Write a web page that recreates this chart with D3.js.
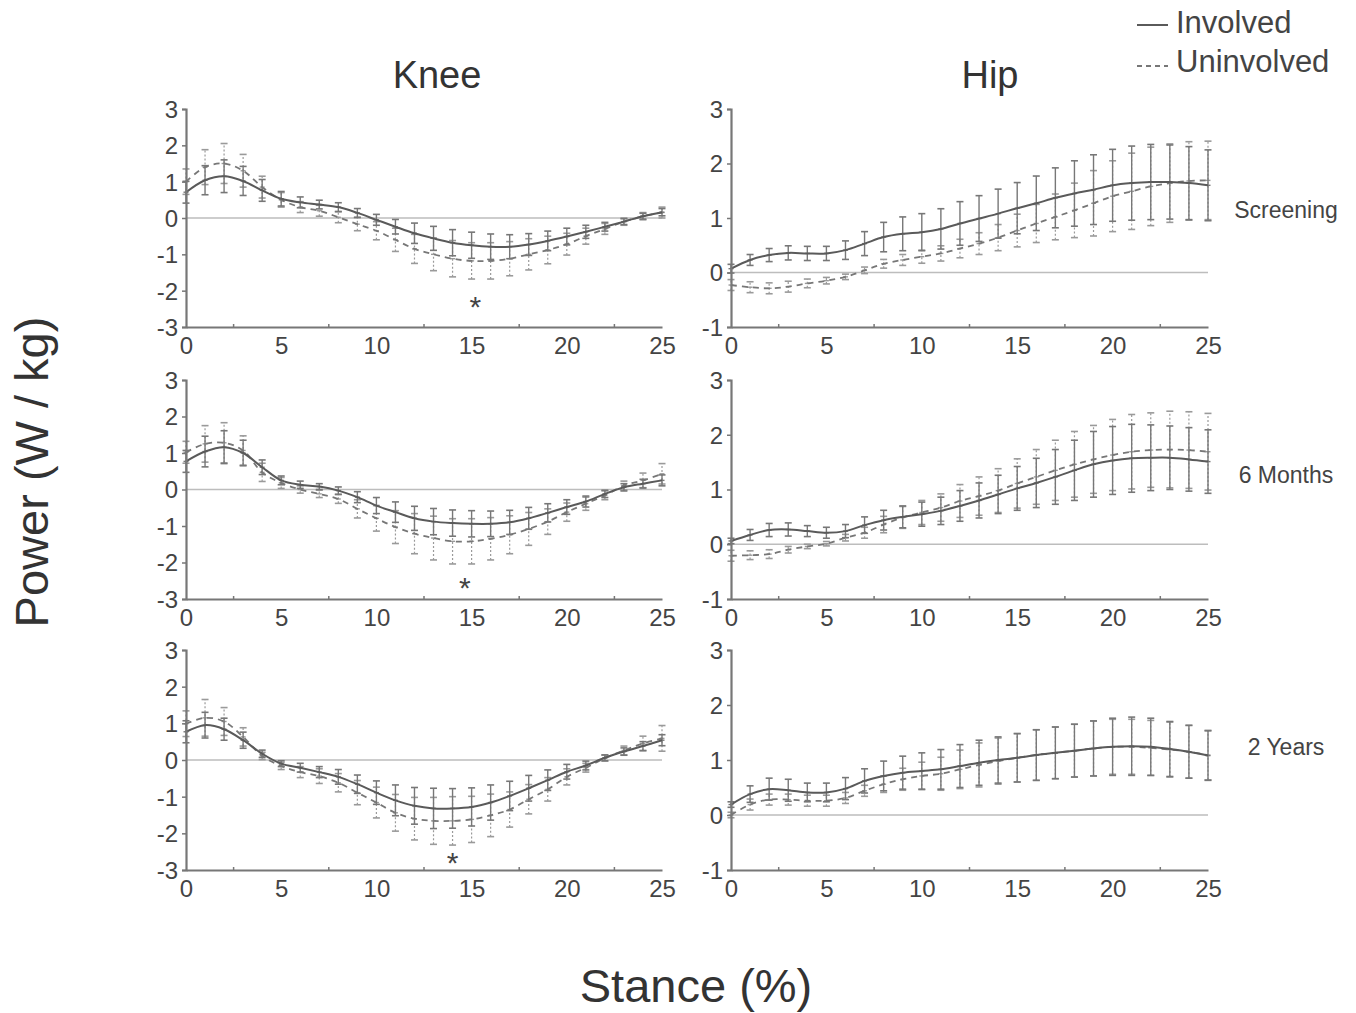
<!DOCTYPE html>
<html>
<head>
<meta charset="utf-8">
<script src="https://cdn.jsdelivr.net/npm/d3@7"></script>
<style>
  body { margin: 0; background: #fff; }
  svg { font-family: "Liberation Sans", Arial, sans-serif; }
</style>
</head>
<body>
<svg id="chart" width="1356" height="1013"></svg>
<script>
// stance percentage
const stance = d3.range(0, 26);

// Knee power (W/kg), mean and SD, for each visit
const kneeScreenInv = [0.71,1.04,1.15,1.02,0.76,0.53,0.43,0.37,0.3,0.14,-0.05,-0.24,-0.42,-0.56,-0.68,-0.75,-0.79,-0.79,-0.73,-0.63,-0.51,-0.38,-0.24,-0.1,0.05,0.16];
const kneeScreenInvSd = [0.3,0.4,0.45,0.4,0.3,0.2,0.15,0.12,0.12,0.12,0.15,0.2,0.28,0.33,0.36,0.36,0.35,0.33,0.3,0.27,0.23,0.18,0.12,0.08,0.08,0.1];
const kneeScreenUn = [1.0,1.4,1.5,1.3,0.85,0.5,0.3,0.2,0.02,-0.17,-0.35,-0.6,-0.85,-1.0,-1.12,-1.18,-1.18,-1.12,-1.0,-0.88,-0.72,-0.5,-0.3,-0.1,0.05,0.15];
const kneeScreenUnSd = [0.35,0.48,0.55,0.45,0.3,0.2,0.15,0.15,0.15,0.18,0.25,0.32,0.4,0.45,0.5,0.5,0.5,0.47,0.43,0.38,0.3,0.22,0.15,0.1,0.1,0.15];

const knee6Inv = [0.77,1.04,1.16,1.0,0.61,0.25,0.13,0.08,-0.03,-0.21,-0.44,-0.62,-0.79,-0.88,-0.92,-0.94,-0.94,-0.9,-0.79,-0.64,-0.48,-0.33,-0.12,0.06,0.16,0.25];
const knee6InvSd = [0.3,0.42,0.45,0.35,0.2,0.12,0.1,0.08,0.1,0.15,0.22,0.28,0.33,0.36,0.36,0.36,0.35,0.33,0.3,0.25,0.2,0.15,0.1,0.1,0.12,0.15];
const knee6Un = [1.02,1.25,1.28,1.07,0.47,0.18,0.0,-0.12,-0.26,-0.53,-0.79,-1.03,-1.21,-1.33,-1.42,-1.42,-1.35,-1.24,-1.08,-0.88,-0.62,-0.39,-0.16,0.11,0.25,0.43];
const knee6UnSd = [0.3,0.5,0.55,0.4,0.25,0.15,0.1,0.1,0.12,0.25,0.35,0.45,0.55,0.6,0.62,0.62,0.58,0.52,0.45,0.35,0.25,0.18,0.12,0.12,0.2,0.28];

const knee2Inv = [0.77,0.95,0.84,0.54,0.17,-0.1,-0.21,-0.33,-0.46,-0.66,-0.89,-1.1,-1.25,-1.32,-1.32,-1.28,-1.16,-0.98,-0.77,-0.55,-0.32,-0.15,0.06,0.23,0.38,0.54];
const knee2InvSd = [0.3,0.35,0.3,0.22,0.1,0.08,0.12,0.15,0.2,0.25,0.32,0.42,0.5,0.55,0.54,0.52,0.48,0.4,0.35,0.28,0.2,0.12,0.08,0.1,0.12,0.15];
const knee2Un = [0.99,1.15,1.05,0.63,0.11,-0.16,-0.33,-0.44,-0.62,-0.89,-1.16,-1.44,-1.6,-1.66,-1.66,-1.62,-1.51,-1.35,-1.07,-0.8,-0.46,-0.21,0.05,0.26,0.45,0.59];
const knee2UnSd = [0.35,0.5,0.38,0.25,0.1,0.1,0.15,0.2,0.25,0.33,0.42,0.5,0.58,0.64,0.66,0.63,0.58,0.48,0.4,0.32,0.22,0.12,0.08,0.12,0.2,0.35];

// Hip power (W/kg)
const hipScreenInv = [0.07,0.23,0.32,0.36,0.35,0.35,0.41,0.53,0.65,0.71,0.74,0.8,0.9,0.99,1.08,1.18,1.27,1.37,1.45,1.52,1.6,1.64,1.66,1.66,1.64,1.6];
const hipScreenInvSd = [0.08,0.1,0.12,0.13,0.13,0.13,0.17,0.22,0.27,0.31,0.34,0.37,0.4,0.42,0.45,0.47,0.5,0.55,0.6,0.64,0.66,0.68,0.69,0.68,0.67,0.65];
const hipScreenUn = [-0.23,-0.27,-0.29,-0.26,-0.2,-0.15,-0.08,0.04,0.16,0.23,0.29,0.35,0.44,0.53,0.64,0.77,0.9,1.02,1.14,1.27,1.4,1.49,1.58,1.64,1.68,1.69];
const hipScreenUnSd = [0.1,0.1,0.1,0.1,0.08,0.06,0.05,0.06,0.08,0.1,0.12,0.14,0.17,0.2,0.24,0.3,0.35,0.42,0.5,0.6,0.65,0.7,0.72,0.72,0.72,0.72];

const hip6Inv = [0.06,0.17,0.26,0.27,0.24,0.21,0.24,0.35,0.44,0.5,0.55,0.61,0.7,0.8,0.91,1.02,1.12,1.23,1.35,1.46,1.53,1.57,1.58,1.58,1.55,1.51];
const hip6InvSd = [0.05,0.1,0.12,0.12,0.1,0.1,0.12,0.15,0.18,0.2,0.22,0.25,0.28,0.32,0.35,0.4,0.45,0.5,0.55,0.6,0.62,0.62,0.6,0.58,0.58,0.58];
const hip6Un = [-0.21,-0.2,-0.18,-0.1,-0.04,0.01,0.12,0.21,0.36,0.49,0.58,0.67,0.79,0.88,0.98,1.11,1.23,1.35,1.46,1.55,1.63,1.69,1.72,1.73,1.72,1.69];
const hip6UnSd = [0.1,0.08,0.08,0.06,0.04,0.04,0.06,0.1,0.15,0.2,0.22,0.25,0.3,0.35,0.4,0.45,0.5,0.55,0.6,0.62,0.65,0.68,0.68,0.7,0.7,0.7];

const hip2Inv = [0.19,0.38,0.47,0.45,0.41,0.41,0.48,0.62,0.71,0.77,0.8,0.83,0.89,0.95,1.0,1.04,1.09,1.13,1.17,1.21,1.24,1.25,1.24,1.2,1.15,1.08];
const hip2InvSd = [0.05,0.15,0.2,0.2,0.17,0.17,0.2,0.22,0.27,0.3,0.33,0.36,0.39,0.41,0.42,0.44,0.46,0.47,0.48,0.5,0.52,0.53,0.52,0.5,0.48,0.45];
const hip2Un = [0.0,0.19,0.28,0.28,0.26,0.26,0.31,0.44,0.56,0.65,0.71,0.75,0.83,0.91,0.98,1.04,1.09,1.13,1.17,1.21,1.24,1.24,1.22,1.19,1.15,1.09];
const hip2UnSd = [0.05,0.1,0.1,0.1,0.1,0.1,0.1,0.1,0.15,0.2,0.25,0.3,0.35,0.4,0.42,0.44,0.46,0.47,0.48,0.5,0.5,0.5,0.5,0.5,0.48,0.45];

// significant difference markers (stance %, power)
const kneeStars = [[15.2, -2.3], [14.65, -2.55], [14.0, -2.68]];

const rowLabels = ["Screening", "6 Months", "2 Years"];
const kneeTicks = [-3, -2, -1, 0, 1, 2, 3];
const hipTicks = [-1, 0, 1, 2, 3];
const xTicks = [0, 5, 10, 15, 20, 25];

const svg = d3.select("#chart");

const rows = [
  { top: 109, bottom: 327, knee: [kneeScreenInv, kneeScreenInvSd, kneeScreenUn, kneeScreenUnSd], hip: [hipScreenInv, hipScreenInvSd, hipScreenUn, hipScreenUnSd] },
  { top: 380, bottom: 599, knee: [knee6Inv, knee6InvSd, knee6Un, knee6UnSd], hip: [hip6Inv, hip6InvSd, hip6Un, hip6UnSd] },
  { top: 650, bottom: 870, knee: [knee2Inv, knee2InvSd, knee2Un, knee2UnSd], hip: [hip2Inv, hip2InvSd, hip2Un, hip2UnSd] }
];

const cols = [
  { left: 186, right: 662, domain: [-3, 3], ticks: kneeTicks, key: "knee" },
  { left: 731, right: 1208, domain: [-1, 3], ticks: hipTicks, key: "hip" }
];

function drawPanel(row, col, ri) {
  const x = d3.scaleLinear().domain([0, 25]).range([col.left, col.right]);
  const y = d3.scaleLinear().domain(col.domain).range([row.bottom, row.top]);
  const g = svg.append("g");
  const [inv, invSd, un, unSd] = row[col.key];

  // zero line
  g.append("line")
    .attr("x1", x(0)).attr("x2", x(25))
    .attr("y1", y(0)).attr("y2", y(0))
    .attr("stroke", "#bdbdbd").attr("stroke-width", 1.6);

  const line = d3.line()
    .x((d, i) => x(stance[i]))
    .y(d => y(d))
    .curve(d3.curveCatmullRom.alpha(0.5));

  // error bars: uninvolved (dotted, light) then involved
  function errBars(mean, sd, stroke, dash, width) {
    const eb = g.append("g");
    stance.forEach((s, i) => {
      const lo = y(mean[i] - sd[i]), hi = y(mean[i] + sd[i]);
      eb.append("line").attr("x1", x(s)).attr("x2", x(s)).attr("y1", lo).attr("y2", hi)
        .attr("stroke", stroke).attr("stroke-width", width).attr("stroke-dasharray", dash);
      [lo, hi].forEach(v => {
        eb.append("line").attr("x1", x(s) - 3.5).attr("x2", x(s) + 3.5).attr("y1", v).attr("y2", v)
          .attr("stroke", stroke).attr("stroke-width", 1.6);
      });
      eb.append("line").attr("x1", x(s) - 2.5).attr("x2", x(s) + 2.5).attr("y1", y(mean[i])).attr("y2", y(mean[i]))
        .attr("stroke", stroke).attr("stroke-width", 1.4);
    });
  }
  errBars(un, unSd, "#9a9a9a", "2,2", 1.2);
  errBars(inv, invSd, "#777", null, 1.4);

  g.append("path").datum(un).attr("d", line)
    .attr("fill", "none").attr("stroke", "#777").attr("stroke-width", 1.8)
    .attr("stroke-dasharray", "6,5");
  g.append("path").datum(inv).attr("d", line)
    .attr("fill", "none").attr("stroke", "#5a5a5a").attr("stroke-width", 2);

  // axes
  const xAxis = g.append("g").attr("transform", `translate(0,${row.bottom})`)
    .call(d3.axisBottom(x).tickValues(xTicks).tickSize(0).tickPadding(13));
  xAxis.append("g").selectAll("line").data(d3.range(2.5, 25, 5)).join("line")
    .attr("x1", d => x(d)).attr("x2", d => x(d)).attr("y1", 0).attr("y2", -3)
    .attr("stroke", "#777").attr("stroke-width", 1.5);
  const yAxis = g.append("g").attr("transform", `translate(${col.left},0)`)
    .call(d3.axisLeft(y).tickValues(col.ticks).tickSize(4).tickPadding(4).tickFormat(d => String(d)));

  [xAxis, yAxis].forEach(a => {
    a.select(".domain").attr("stroke", "#777").attr("stroke-width", 2.2);
    a.selectAll(".tick line").attr("stroke", "#777").attr("stroke-width", 1.5);
    a.selectAll("text").attr("fill", "#444").style("font-size", "24px");
  });
  xAxis.selectAll(".tick text").attr("dy", "0.6em");
  yAxis.selectAll(".tick text").attr("dy", "0.35em");

  if (col.key === "knee") {
    const st = kneeStars[ri];
    g.append("text").attr("x", x(st[0])).attr("y", y(st[1]))
      .attr("text-anchor", "middle").attr("dy", "0.5em")
      .attr("fill", "#444").style("font-size", "30px").text("*");
  }
}

rows.forEach((row, ri) => cols.forEach(col => drawPanel(row, col, ri)));

// column titles
svg.append("text").attr("x", 437).attr("y", 88).attr("text-anchor", "middle")
  .attr("fill", "#333").style("font-size", "38px").text("Knee");
svg.append("text").attr("x", 990).attr("y", 88).attr("text-anchor", "middle")
  .attr("fill", "#333").style("font-size", "38px").text("Hip");

// row labels
svg.selectAll(".rowlab").data(rowLabels).join("text")
  .attr("x", 1286)
  .attr("y", (d, i) => [218, 483, 755][i])
  .attr("text-anchor", "middle").attr("fill", "#444").style("font-size", "23px")
  .text(d => d);

// axis titles
svg.append("text").attr("transform", "translate(48,472) rotate(-90)")
  .attr("text-anchor", "middle").attr("fill", "#333").style("font-size", "47px")
  .text("Power (W / kg)");
svg.append("text").attr("x", 696).attr("y", 1002).attr("text-anchor", "middle")
  .attr("fill", "#333").style("font-size", "47px").text("Stance (%)");

// legend
const legend = svg.append("g");
legend.append("line").attr("x1", 1137).attr("x2", 1168).attr("y1", 25).attr("y2", 25)
  .attr("stroke", "#5a5a5a").attr("stroke-width", 2);
legend.append("line").attr("x1", 1137).attr("x2", 1168).attr("y1", 66).attr("y2", 66)
  .attr("stroke", "#777").attr("stroke-width", 1.8).attr("stroke-dasharray", "5,4");
legend.append("text").attr("x", 1176).attr("y", 33).attr("fill", "#444")
  .style("font-size", "31px").text("Involved");
legend.append("text").attr("x", 1176).attr("y", 72).attr("fill", "#444")
  .style("font-size", "31px").text("Uninvolved");
</script>
</body>
</html>
